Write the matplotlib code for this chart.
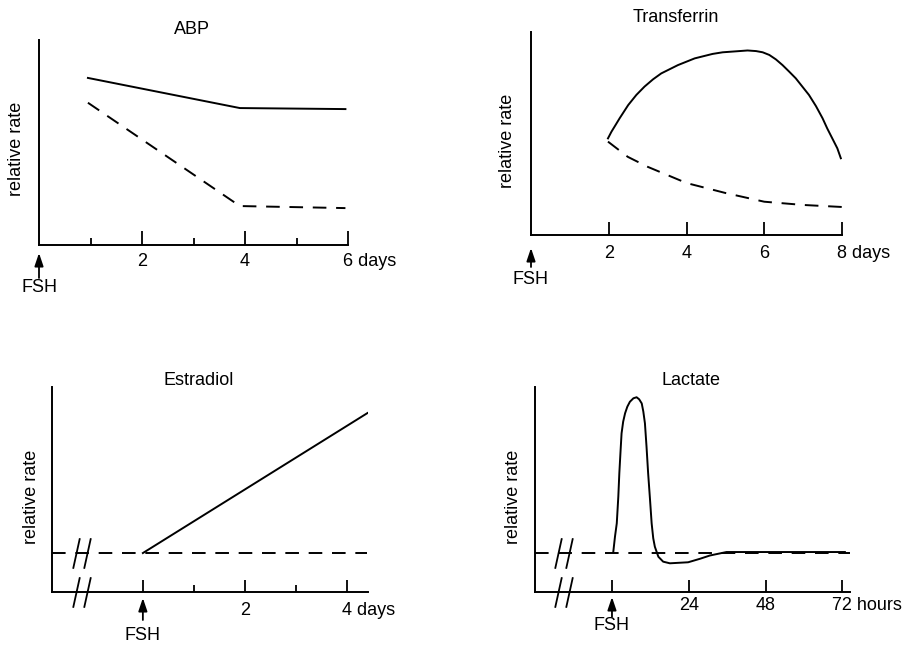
import matplotlib
matplotlib.use('Agg')
import matplotlib.pyplot as plt
import matplotlib.transforms as mtransforms
from matplotlib.path import Path

plt.rcParams['font.family'] = ['Liberation Sans', 'DejaVu Sans']

# ABP (days after FSH)
abp_x = [0.95, 3.9, 5.95]
abp_solid = [0.815, 0.668, 0.663]
abp_dashed = [0.694, 0.19, 0.18]

# Transferrin (days)
tf_x = [1.98, 2.07, 2.15, 2.28, 2.5, 2.71, 2.92, 3.14, 3.35, 3.78, 4.21, 4.67,
        4.93, 5.36, 5.57, 5.79, 5.96, 6.13, 6.3, 6.47, 6.64, 6.81, 6.98, 7.15,
        7.33, 7.5, 7.62, 7.75, 7.88, 7.97]
tf_solid = [0.476, 0.509, 0.534, 0.575, 0.64, 0.69, 0.731, 0.767, 0.796, 0.837,
            0.87, 0.892, 0.9, 0.906, 0.909, 0.906, 0.9, 0.887, 0.865, 0.837,
            0.805, 0.772, 0.731, 0.69, 0.635, 0.575, 0.525, 0.476, 0.427, 0.378]
tf_dx = [1.98, 2.49, 3.0, 4.0, 5.0, 6.0, 7.0, 8.0]
tf_dashed = [0.46, 0.385, 0.336, 0.256, 0.207, 0.164, 0.148, 0.138]

# Estradiol (days)
es_base_x = [-1.78, 4.4]
es_base = [0.19, 0.19]
es_x = [0, 4.4]
es_solid = [0.19, 0.873]
es_breaks = [-1.31, -1.09]

# Lactate (hours)
lac_base_x = [-24, 74.4]
lac_base = [0.19, 0.19]
lac_x = [0.4, 0.94, 1.5, 1.98, 2.3, 2.7, 3.0, 3.5, 4.1, 4.8, 5.6, 6.7, 7.7, 8.5,
         9.3, 9.8, 10.3, 10.8, 11.3, 11.9, 12.4, 12.9, 13.4, 14.5, 16.0, 18.1,
         23.8, 27.5, 30.6, 35.8, 72.8]
lac_solid = [0.194, 0.27, 0.335, 0.465, 0.58, 0.693, 0.774, 0.831, 0.872, 0.904,
             0.928, 0.945, 0.95, 0.94, 0.92, 0.88, 0.823, 0.709, 0.58, 0.449,
             0.335, 0.262, 0.221, 0.172, 0.148, 0.14, 0.145, 0.162, 0.178, 0.195, 0.195]
lac_breaks = [-16.8, -13.5]

W, H = 905, 645
fig = plt.figure(figsize=(9.05, 6.45), dpi=100)
FS = 13
LW = 1.4


def make_axes(left, right, top, bottom):
    return fig.add_axes([left / W, 1 - bottom / H, (right - left) / W, (bottom - top) / H])


def style(ax, xlim, major, minor, labels, unit, pad, maj_len, min_len=5):
    ax.set_xlim(xlim)
    ax.set_ylim(0, 1)
    for s in ['top', 'right']:
        ax.spines[s].set_visible(False)
    for s in ['left', 'bottom']:
        ax.spines[s].set_linewidth(LW)
    ax.set_yticks([])
    ax.set_xticks(major)
    ax.set_xticklabels(labels[:-1] + [''])
    ax.set_xticks(minor, minor=True)
    ax.tick_params(axis='x', which='major', direction='in', length=maj_len,
                   width=1.3, pad=pad, labelsize=FS)
    ax.tick_params(axis='x', which='minor', direction='in', length=min_len, width=1.3)
    # last label carries the unit, number centred on its tick
    ax.annotate(labels[-1] + ' ' + unit, xy=(major[-1], 0), xycoords=('data', 'axes fraction'),
                xytext=(-3.6 * len(labels[-1]), -pad), textcoords='offset points',
                ha='left', va='top', fontsize=FS, annotation_clip=False)


def ylab(ax, dx, yfrac):
    tr = mtransforms.offset_copy(ax.transAxes, fig=fig, x=dx, units='dots')
    ax.text(0, yfrac, 'relative rate', rotation=90, ha='center', va='center',
            transform=tr, fontsize=FS)


def fsh(ax, x0, tip, tail, text_c):
    trans = ax.get_xaxis_transform()
    tip_tr = mtransforms.offset_copy(trans, fig=fig, y=-tip, units='dots')
    tail_tr = mtransforms.offset_copy(trans, fig=fig, y=-tail, units='dots')
    ax.annotate('', xy=(x0, 0), xycoords=tip_tr, xytext=(x0, 0), textcoords=tail_tr,
                arrowprops=dict(arrowstyle='-|>,head_length=0.65,head_width=0.22',
                                mutation_scale=12, lw=1.3, color='black',
                                shrinkA=0, shrinkB=0),
                annotation_clip=False)
    ax.annotate('FSH', xy=(x0, 0), xycoords=trans, xytext=(0, -text_c),
                textcoords='offset pixels', ha='center', va='center', fontsize=FS,
                annotation_clip=False)


slash = Path([(-0.11, -0.5), (0.11, 0.5)], [Path.MOVETO, Path.LINETO])


def breaks(ax, xs, levels):
    for lev in levels:
        ax.plot(xs, [lev] * len(xs), ls='none', marker=slash, markersize=22,
                mew=1.3, mec='black', mfc='none', clip_on=False)


# ABP
ax1 = make_axes(39, 348, 40, 245)
ax1.plot(abp_x, abp_solid, color='black', lw=LW)
ax1.plot(abp_x, abp_dashed, color='black', lw=LW, dashes=(7, 5))
style(ax1, (0, 6), [2, 4, 6], [1, 3, 5], ['2', '4', '6'], 'days', 6, 10)
ylab(ax1, -23, 0.468)
fsh(ax1, 0, 8, 33, 43)
fig.text(192 / W, 1 - 34 / H, 'ABP', ha='center', va='baseline', fontsize=FS)

# Transferrin
ax2 = make_axes(531, 842, 32, 235)
ax2.plot(tf_x, tf_solid, color='black', lw=LW)
ax2.plot(tf_dx, tf_dashed, color='black', lw=LW, dashes=(7, 5))
style(ax2, (0, 8), [2, 4, 6, 8], [], ['2', '4', '6', '8'], 'days', 7, 9.5)
ylab(ax2, -23, 0.463)
fsh(ax2, 0, 13, 32, 45)
fig.text(676 / W, 1 - 22.5 / H, 'Transferrin', ha='center', va='baseline', fontsize=FS)

# Estradiol
ax3 = make_axes(52, 368, 387, 592)
ax3.plot(es_base_x, es_base, color='black', lw=LW, dashes=(7, 5))
ax3.plot(es_x, es_solid, color='black', lw=LW)
style(ax3, (-1.78, 4.41), [0, 2, 4], [1, 3], ['', '2', '4'], 'days', 7, 9)
breaks(ax3, es_breaks, [0, 0.19])
ylab(ax3, -21, 0.463)
fsh(ax3, 0, 6, 28, 43)
fig.text(198.5 / W, 1 - 385 / H, 'Estradiol', ha='center', va='baseline', fontsize=FS)

# Lactate
ax4 = make_axes(535, 850, 387, 592)
ax4.plot(lac_base_x, lac_base, color='black', lw=LW, dashes=(7, 5))
ax4.plot(lac_x, lac_solid, color='black', lw=LW)
style(ax4, (-24.06, 74.4), [0, 24, 48, 72], [], ['', '24', '48', '72'], 'hours', 3.5, 9)
breaks(ax4, lac_breaks, [0, 0.19])
ylab(ax4, -22, 0.463)
fsh(ax4, 0, 5, 25, 34)
fig.text(691 / W, 1 - 385 / H, 'Lactate', ha='center', va='baseline', fontsize=FS)

fig.savefig('out.png', dpi=100)
